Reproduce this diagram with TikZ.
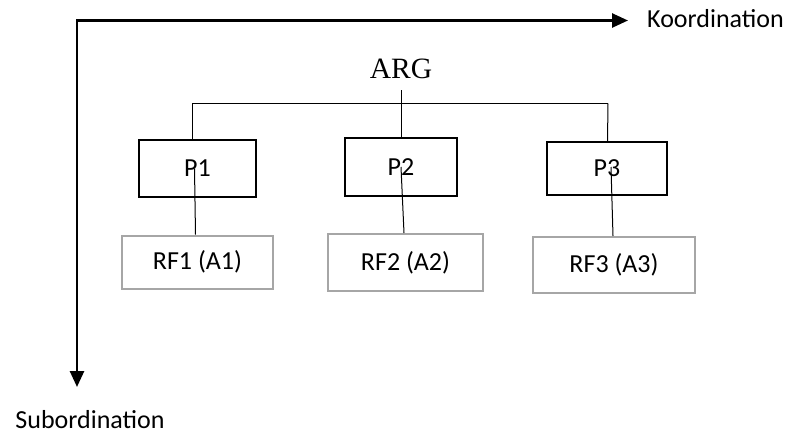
\documentclass[tikz,border=0pt]{standalone}
\usepackage{fontspec}
\setmainfont{Carlito}
\newfontfamily\argfont{Liberation Serif}
\usetikzlibrary{arrows.meta,calc}
\definecolor{rfgray}{RGB}{166,166,166}
\begin{document}
\begin{tikzpicture}[x=1pt,y=-1pt,
  every node/.style={font=\fontsize{26}{30}\selectfont},
  pbox/.style={draw=black,line width=2.2pt,minimum width=117pt,minimum height=57pt,inner sep=0pt},
  rfbox/.style={draw=rfgray,line width=2pt,minimum width=151pt,minimum height=53pt,inner sep=0pt},
  axis/.style={line width=2.6pt,{Triangle[length=16pt,width=14pt]}-{Triangle[length=16pt,width=14pt]}},
  thin/.style={line width=1pt}]
\useasboundingbox (0,0) rectangle (789,434);

% axes
\coordinate (corner) at (77,20.5);
\coordinate (ktip) at (628,20.5);
\coordinate (stip) at (77,387);
\draw[axis] (ktip) -- (corner) -- (stip);
\node[anchor=west,inner sep=0pt] (koord) at (647,19) {Koordination};
\node[inner sep=0pt] (subord) at (90,420) {Subordination};

% root
\node[inner sep=0pt,font=\argfont\fontsize{29.5}{32}\selectfont] (arg) at (401,69) {ARG};

% first level
\node[pbox] (p1) at (197.5,168.5) {P1};
\node[pbox,minimum width=112pt,minimum height=58pt] (p2) at (401,167) {P2};
\node[pbox,minimum width=120pt,minimum height=53pt] (p3) at (607,168.5) {P3};

% second level
\node[rfbox] (rf1) at (197.5,262) {RF1 (A1)};
\node[rfbox,minimum width=155pt,minimum height=57pt] (rf2) at (405.5,262.5) {RF2 (A2)};
\node[rfbox,minimum width=162pt,minimum height=56pt] (rf3) at (614,265) {RF3 (A3)};

% bracket joining the P boxes
\coordinate (bl) at (192,103.5);
\coordinate (br) at (608,103.5);
\draw[thin] (bl) -- (br);
\draw[thin] ([yshift=-11pt]arg.south) -- (p2.north);
\draw[thin] (bl) -- ([xshift=-5.5pt]p1.north);
\draw[thin] (br) -- ([xshift=0.5pt]p3.north);

% stems to the RF boxes
\draw[thin] ([xshift=-3pt]p1.center) -- ([xshift=-2pt]rf1.north);
\draw[thin] (p2.center) -- ([xshift=-1.5pt]rf2.north);
\draw[thin] ([xshift=4pt,yshift=1.5pt]p3.center) -- ([xshift=-1pt]rf3.north);
\end{tikzpicture}
\end{document}
